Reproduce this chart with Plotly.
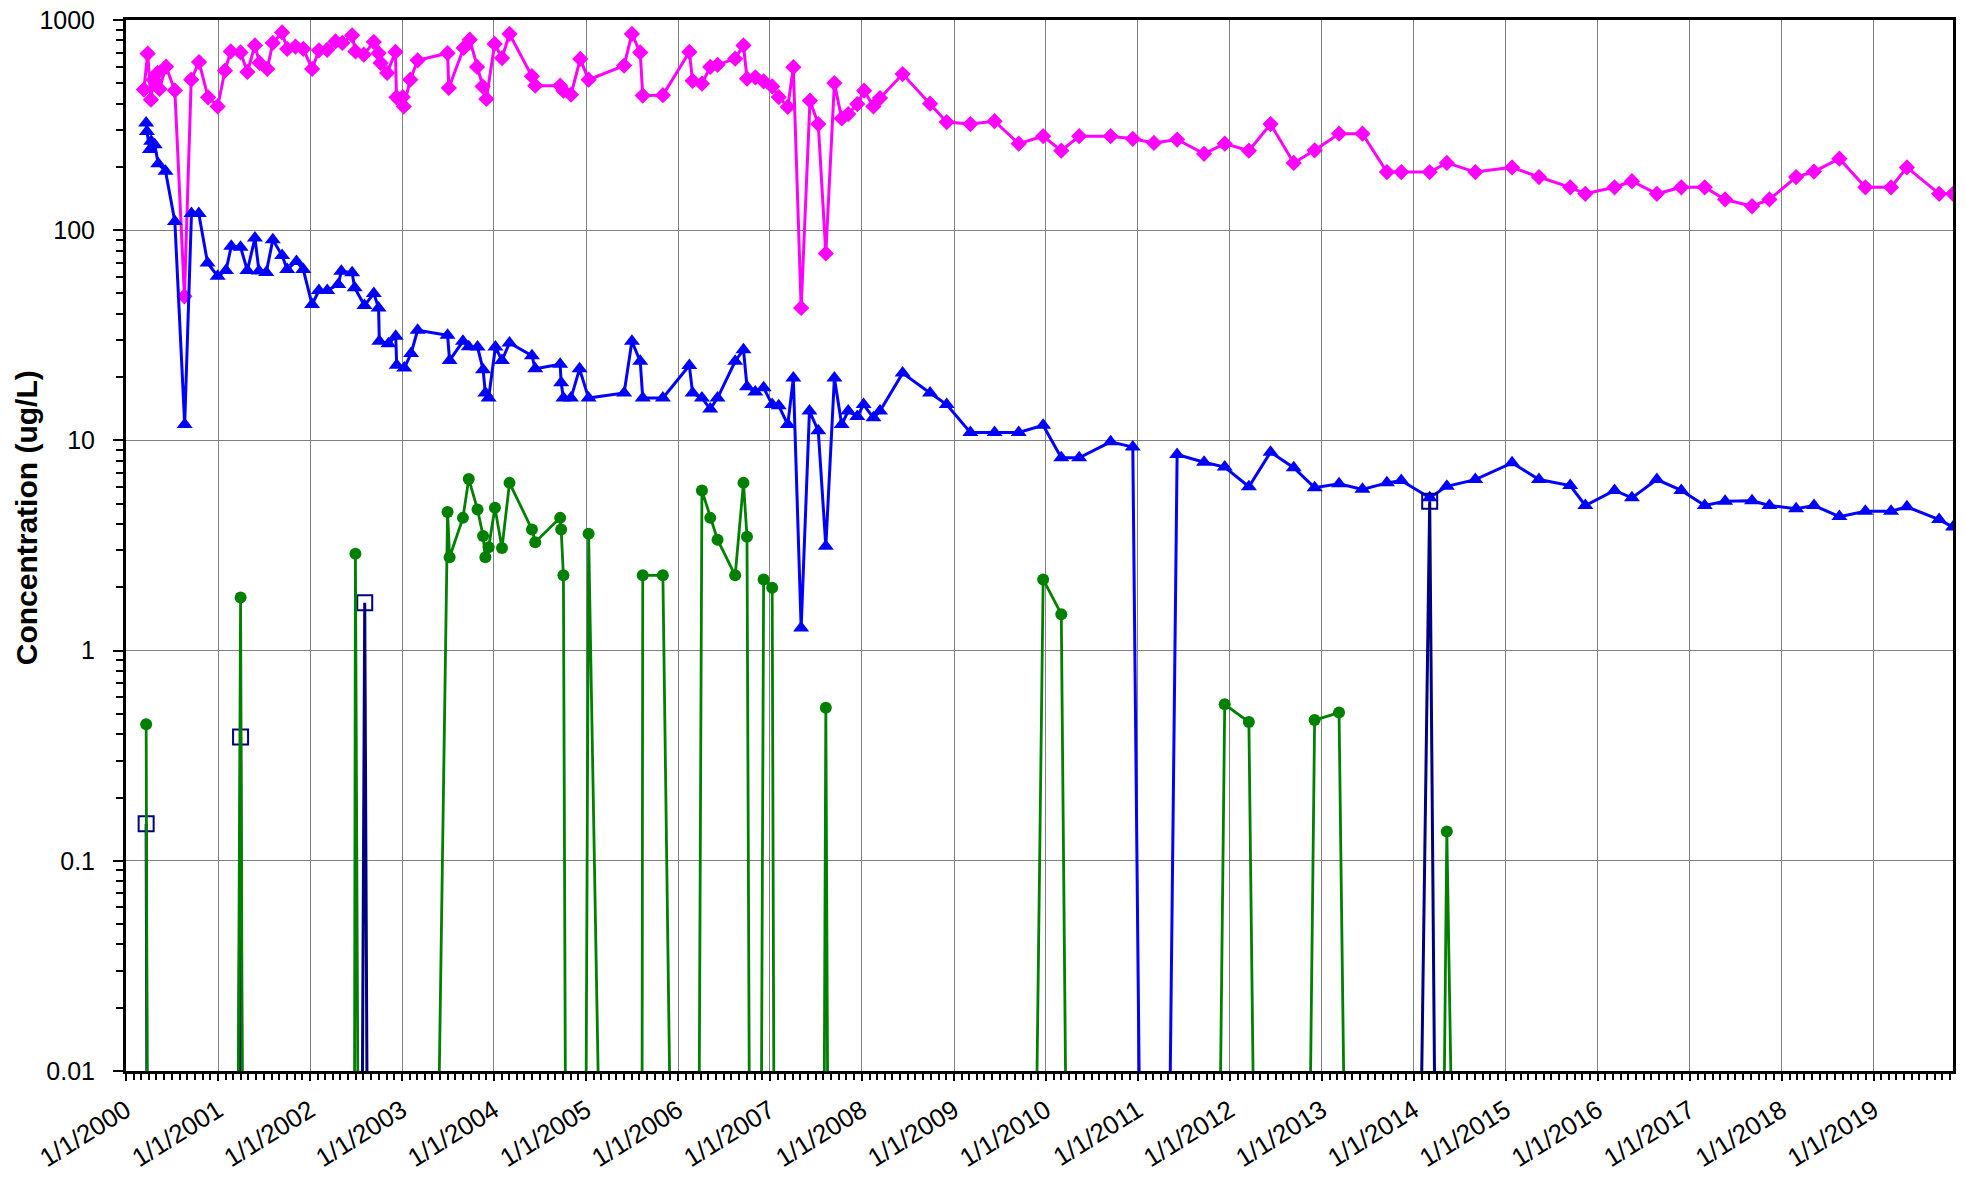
import plotly.graph_objects as go

# ---------------- data ----------------
# 0 means "not detected"; it is drawn far below the axis, as in the original
magenta_dates = [
    "2000-03-12", "2000-03-27", "2000-04-09", "2000-04-19", "2000-05-05", "2000-05-13",
    "2000-06-08", "2000-07-13", "2000-08-20", "2000-09-16", "2000-10-17", "2000-11-22",
    "2000-12-30", "2001-01-28", "2001-02-20", "2001-03-31", "2001-04-27", "2001-05-27",
    "2001-06-14", "2001-07-15", "2001-08-06", "2001-09-12", "2001-10-02", "2001-11-04",
    "2001-12-05", "2002-01-09", "2002-02-05", "2002-03-10", "2002-04-12", "2002-05-09",
    "2002-06-17", "2002-06-30", "2002-08-02", "2002-09-11", "2002-09-30", "2002-10-08",
    "2002-11-03", "2002-12-06", "2002-12-10", "2003-01-04", "2003-01-08", "2003-02-03",
    "2003-03-04", "2003-07-01", "2003-07-06", "2003-09-03", "2003-09-27", "2003-10-26",
    "2003-11-17", "2003-12-02", "2004-01-04", "2004-02-02", "2004-03-03", "2004-05-31",
    "2004-06-13", "2004-09-20", "2004-10-03", "2004-11-02", "2004-12-09", "2005-01-11",
    "2005-06-01", "2005-07-02", "2005-08-04", "2005-08-14", "2005-11-02", "2006-02-15",
    "2006-02-28", "2006-04-06", "2006-05-09", "2006-06-07", "2006-08-16", "2006-09-18",
    "2006-10-02", "2006-11-04", "2006-12-07", "2007-01-10", "2007-02-05", "2007-03-13",
    "2007-04-04", "2007-05-05", "2007-06-09", "2007-07-12", "2007-08-11", "2007-09-14",
    "2007-10-13", "2007-11-08", "2007-12-14", "2008-01-10", "2008-02-16", "2008-03-13",
    "2008-06-11", "2008-09-28", "2008-12-03", "2009-03-07", "2009-06-11", "2009-09-15",
    "2009-12-21", "2010-03-03", "2010-05-13", "2010-09-15", "2010-12-12", "2011-03-06",
    "2011-06-06", "2011-09-21", "2011-12-12", "2012-03-17", "2012-06-11", "2012-09-11",
    "2012-12-03", "2013-03-10", "2013-06-11", "2013-09-16", "2013-11-12", "2014-03-05",
    "2014-05-12", "2014-09-02", "2015-01-26", "2015-05-13", "2015-09-14", "2015-11-13",
    "2016-03-08", "2016-05-16", "2016-08-23", "2016-11-28", "2017-03-01", "2017-05-21",
    "2017-09-05", "2017-11-13", "2018-02-27", "2018-05-09", "2018-08-18", "2018-11-29",
    "2019-03-11", "2019-05-13", "2019-09-18", "2019-11-12",
]
magenta_values = [
    467, 692, 418, 520, 560, 470,
    600, 462, 48.5, 520, 631, 429,
    388, 574, 709, 701, 566, 757,
    625, 585, 778, 873, 728, 748,
    728, 585, 717, 721, 791, 778,
    845, 709, 684, 786, 695, 625,
    560, 705, 429, 430, 388, 520,
    643, 695, 475, 736, 806, 598,
    483, 421, 769, 659, 858, 540,
    487, 487, 461, 441, 653, 520,
    607, 858, 701, 437, 439, 705,
    514, 498, 598, 612, 655, 757,
    526, 534, 511, 483, 430, 386,
    596, 42.7, 413, 320, 77.5, 501,
    340, 357, 398, 461, 388, 425,
    553, 400, 327, 320, 330, 258,
    280, 239, 280, 280, 272, 260,
    270, 231, 258, 239, 320, 209,
    240, 288, 288, 189, 189, 189,
    209, 189, 199, 179, 160, 149,
    160, 171, 149, 160, 160, 140,
    130, 140, 179, 190, 219, 160,
    160, 199, 149, 149,
]

blue_dates = [
    "2000-03-21", "2000-03-24", "2000-04-05", "2000-04-10", "2000-04-24", "2000-05-08",
    "2000-06-06", "2000-07-13", "2000-08-21", "2000-09-17", "2000-10-16", "2000-11-20",
    "2000-12-30", "2001-02-01", "2001-02-22", "2001-03-31", "2001-04-27", "2001-05-27",
    "2001-06-12", "2001-07-11", "2001-08-06", "2001-09-12", "2001-10-02", "2001-11-08",
    "2001-12-05", "2002-01-09", "2002-02-05", "2002-03-10", "2002-04-23", "2002-05-05",
    "2002-06-17", "2002-06-27", "2002-08-05", "2002-09-11", "2002-09-30", "2002-10-03",
    "2002-11-08", "2002-12-07", "2002-12-11", "2003-01-10", "2003-02-06", "2003-03-04",
    "2003-07-01", "2003-07-09", "2003-08-31", "2003-09-23", "2003-10-28", "2003-11-19",
    "2003-11-28", "2003-12-11", "2004-01-07", "2004-02-02", "2004-03-03", "2004-05-31",
    "2004-06-13", "2004-09-20", "2004-09-24", "2004-10-03", "2004-11-02", "2004-12-06",
    "2005-01-11", "2005-06-01", "2005-07-02", "2005-08-04", "2005-08-14", "2005-11-02",
    "2006-02-15", "2006-02-28", "2006-04-06", "2006-05-09", "2006-06-07", "2006-08-16",
    "2006-09-18", "2006-10-02", "2006-11-04", "2006-12-07", "2007-01-10", "2007-02-05",
    "2007-03-13", "2007-04-04", "2007-05-05", "2007-06-07", "2007-07-12", "2007-08-11",
    "2007-09-14", "2007-10-13", "2007-11-08", "2007-12-14", "2008-01-08", "2008-02-16",
    "2008-03-13", "2008-06-11", "2008-09-28", "2008-12-03", "2009-03-07", "2009-06-11",
    "2009-09-15", "2009-12-21", "2010-03-03", "2010-05-13", "2010-09-15", "2010-12-12",
    "2011-03-06", "2011-06-06", "2011-09-21", "2011-12-12", "2012-03-17", "2012-06-11",
    "2012-09-11", "2012-12-03", "2013-03-10", "2013-06-11", "2013-09-16", "2013-11-12",
    "2014-03-05", "2014-05-12", "2014-09-02", "2015-01-26", "2015-05-13", "2015-09-14",
    "2015-11-13", "2016-03-08", "2016-05-16", "2016-08-23", "2016-11-28", "2017-03-01",
    "2017-05-21", "2017-09-05", "2017-11-13", "2018-02-27", "2018-05-09", "2018-08-18",
    "2018-11-29", "2019-03-11", "2019-05-13", "2019-09-18", "2019-11-12",
]
blue_values = [
    324, 295, 242, 265, 255, 207,
    191, 110, 11.9, 120, 120, 69.8,
    60.4, 64.3, 83.8, 83, 64.3, 91.8,
    64, 63, 90, 75.7, 65, 71,
    65, 44.3, 51.6, 51.6, 55.1, 63.8,
    62.7, 53.2, 43.8, 50, 42.7, 29.6,
    28.8, 31.3, 22.8, 22.1, 25.9, 33.4,
    31.6, 24, 29.6, 27.9, 27.8, 21.7,
    16.8, 15.9, 27.8, 24, 29.1, 25.3,
    21.9, 23, 18.8, 15.9, 15.9, 21.9,
    15.9, 16.8, 29.6, 23.8, 15.9, 15.9,
    22.7, 16.8, 15.9, 14.1, 15.9, 23.8,
    27, 18, 17, 17.8, 14.8, 14.6,
    11.9, 19.8, 1.28, 13.8, 11.1, 3.14,
    19.8, 11.9, 13.8, 13, 14.8, 12.8,
    13.8, 20.9, 16.8, 14.8, 10.9, 10.9,
    10.9, 11.8, 8.26, 8.26, 9.84, 9.29,
    0, 8.57, 7.87, 7.47, 6.02, 8.79,
    7.41, 5.96, 6.22, 5.85, 6.28, 6.44,
    5.33, 6.05, 6.51, 7.82, 6.51, 6.1,
    4.9, 5.78, 5.33, 6.51, 5.78, 4.9,
    5.14, 5.16, 4.9, 4.73, 4.9, 4.34,
    4.6, 4.6, 4.83, 4.2, 3.87,
]

green_dates = [
    "2000-03-21", "2000-04-10", "2001-02-22", "2001-03-31", "2001-04-27", "2002-06-17",
    "2002-06-30", "2002-08-05", "2003-03-04", "2003-07-01", "2003-07-09", "2003-08-31",
    "2003-09-23", "2003-10-28", "2003-11-19", "2003-11-28", "2003-12-11", "2004-01-05",
    "2004-02-02", "2004-03-03", "2004-05-31", "2004-06-13", "2004-09-20", "2004-09-24",
    "2004-10-03", "2004-11-02", "2004-12-06", "2005-01-11", "2005-06-01", "2005-08-04",
    "2005-08-14", "2005-11-02", "2006-02-15", "2006-02-28", "2006-04-06", "2006-05-09",
    "2006-06-07", "2006-08-16", "2006-09-18", "2006-10-02", "2006-11-04", "2006-12-07",
    "2007-01-10", "2007-02-05", "2007-07-12", "2007-08-11", "2007-09-14", "2009-09-15",
    "2009-12-21", "2010-03-03", "2010-05-13", "2011-09-21", "2011-12-12", "2012-03-17",
    "2012-06-11", "2012-09-11", "2012-12-03", "2013-03-10", "2013-06-11", "2014-03-05",
    "2014-05-12", "2014-09-02",
]
green_values = [
    0.446, 0, 0, 1.79, 0, 0,
    2.89, 0, 0, 4.57, 2.78, 4.28,
    6.56, 4.69, 3.51, 2.78, 3.1, 4.78,
    3.08, 6.28, 3.77, 3.28, 4.28, 3.77,
    2.28, 0, 0, 3.6, 0, 0,
    2.28, 2.28, 0, 0, 5.78, 4.28,
    3.37, 2.28, 6.28, 3.48, 0, 2.18,
    1.99, 0, 0, 0.535, 0, 0,
    2.18, 1.49, 0, 0, 0.555, 0.457,
    0, 0, 0.467, 0.507, 0, 0,
    0.138, 0,
]

navy_dates = [
    "2000-03-21", "2000-04-10", "2001-02-22", "2001-03-31", "2001-04-27", "2002-06-30",
    "2002-08-06", "2002-09-11", "2013-11-12", "2014-03-05", "2014-05-12",
]
navy_values = [0.15, 0, 0, 0.388, 0, 0, 1.69, 0, 0, 5.14, 0]

y_tick_values = [0.01, 0.1, 1, 10, 100, 1000]
y_tick_labels = ["0.01", "0.1", "1", "10", "100", "1000"]
y_title = "Concentration (ug/L)"

ND_PLOT = 1e-9  # where a non-detect is drawn (far below the visible range)


def plotted(vals):
    return [v if v > 0 else ND_PLOT for v in vals]


FONT = "Liberation Sans, Arial, sans-serif"

fig = go.Figure()

fig.add_trace(go.Scatter(
    x=magenta_dates, y=plotted(magenta_values), mode="lines+markers",
    line=dict(color="#FF00FF", width=3),
    marker=dict(symbol="diamond", size=12.5, color="#FF00FF"),
    cliponaxis=True, showlegend=False,
))
fig.add_trace(go.Scatter(
    x=blue_dates, y=plotted(blue_values), mode="lines+markers",
    line=dict(color="#0000FF", width=3),
    marker=dict(symbol="triangle-up", size=14, color="#0000FF"),
    cliponaxis=True, showlegend=False,
))
fig.add_trace(go.Scatter(
    x=navy_dates, y=plotted(navy_values), mode="lines+markers",
    line=dict(color="#000080", width=3),
    marker=dict(symbol="square-open", size=15, color="#000080", line=dict(width=2)),
    cliponaxis=True, showlegend=False,
))
fig.add_trace(go.Scatter(
    x=green_dates, y=plotted(green_values), mode="lines+markers",
    line=dict(color="#008000", width=2.8),
    marker=dict(symbol="circle", size=12, color="#008000"),
    cliponaxis=True, showlegend=False,
))

# the page body keeps its default 8px margin, so the figure is sized to fit inside it
fig.update_layout(
    width=1949, height=1169,
    margin=dict(l=118, r=4, t=12, b=106),
    paper_bgcolor="white", plot_bgcolor="white",
    font=dict(family=FONT, color="black", size=25),
)

fig.update_xaxes(
    type="date", automargin=False,
    range=["2000-01-01", "2019-11-12"],
    tick0="2000-01-01", dtick="M12",
    tickformat="%-m/%-d/%Y",
    tickangle=-32,
    tickfont=dict(family=FONT, size=26, color="black"),
    ticklabeloverflow="allow",
    ticklabelstandoff=4,
    ticks="outside", ticklen=7, tickwidth=2, tickcolor="black",
    minor=dict(dtick="M1", tick0="2000-01-01", ticks="outside", ticklen=6,
               tickwidth=1.5, tickcolor="black", showgrid=False),
    showgrid=True, gridcolor="#808080", gridwidth=1.3,
    showline=True, linewidth=3, linecolor="black", mirror=True,
    zeroline=False,
)

fig.update_yaxes(
    type="log", automargin=False,
    range=[-2, 3],
    tickvals=y_tick_values, ticktext=y_tick_labels,
    tickfont=dict(family=FONT, size=25, color="black"),
    ticklabeloverflow="allow",
    ticks="outside", ticklen=10, tickwidth=2, tickcolor="black",
    ticklabelstandoff=13,
    minor=dict(tickvals=[m * 10 ** e for e in range(-2, 3) for m in range(2, 10)],
               ticks="outside", ticklen=7, tickwidth=1.5, tickcolor="black",
               showgrid=False),
    showgrid=True, gridcolor="#808080", gridwidth=1.3,
    showline=True, linewidth=3, linecolor="black", mirror=True,
    zeroline=False,
)

fig.add_annotation(
    text="<b>" + y_title + "</b>", textangle=-90,
    xref="paper", yref="paper", x=-0.0547, y=0.526,
    xanchor="center", yanchor="middle", showarrow=False,
    font=dict(family=FONT, size=30, color="black"),
)

fig.write_html("out.html")
